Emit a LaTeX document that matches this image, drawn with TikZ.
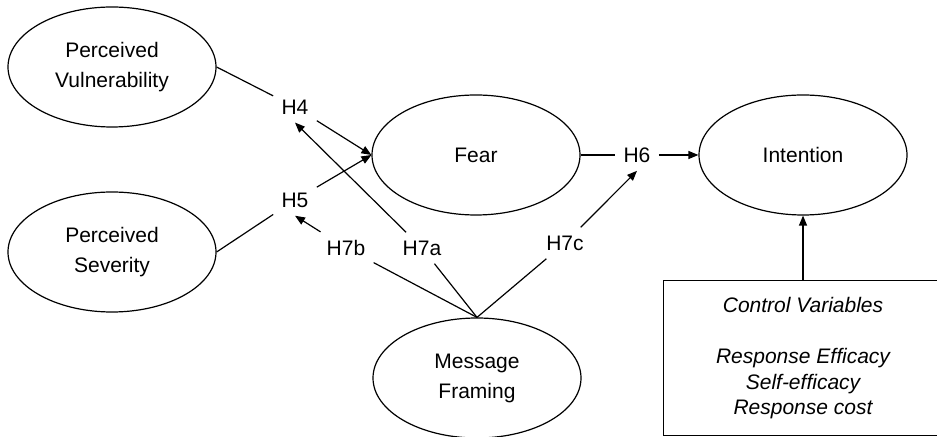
\documentclass[tikz,border=0pt]{standalone}
\usepackage{fontspec}
\setmainfont{Liberation Sans}
\usetikzlibrary{shapes.geometric, arrows.meta, positioning}

\begin{document}
\begin{tikzpicture}[x=0.5pt, y=-0.5pt,
  font=\fontsize{10.5}{15}\selectfont,
  construct/.style={draw, ellipse, line width=0.6pt, minimum width=104pt, minimum height=60pt, align=center, inner sep=0pt},
  hyp/.style={inner sep=4pt},
  link/.style={line width=0.6pt},
  arr/.style={line width=0.6pt, -{Triangle[length=5pt, width=4pt]}}
]
  \useasboundingbox (0,0) rectangle (937,437);
  \clip (0,0) rectangle (937,437);

  % Constructs
  \node[construct] (pv) at (112,67) {Perceived\\Vulnerability};
  \node[construct] (ps) at (112,252) {Perceived\\Severity};
  \node[construct] (fear) at (476,155) {Fear};
  \node[construct] (intent) at (803,155) {Intention};
  \node[construct] (mf) at (477,378) {Message\\Framing};

  % Hypotheses
  \node[hyp] (h4) at (295,107) {H4};
  \node[hyp] (h5) at (295,200) {H5};
  \node[hyp] (h6) at (637,155) {H6};
  \node[hyp] (h7a) at (422,248) {H7a};
  \node[hyp] (h7b) at (346,248) {H7b};
  \node[hyp] (h7c) at (565,243) {H7c};

  % Control variables (box runs off the right edge)
  \node[minimum width=139pt, minimum height=77pt, align=center, font=\fontsize{10.5}{12.8}\selectfont\itshape] (ctrl) at (803,358) {Control Variables\\[12.8pt]Response Efficacy\\Self-efficacy\\Response cost};
  \draw[link] (ctrl.south west) rectangle ([xshift=30pt]ctrl.north east);

  % Main paths
  \draw[link] (pv.east) -- (h4);
  \draw[arr] (h4) -- (fear.west);
  \draw[link] (ps.east) -- (h5);
  \draw[arr] (h5) -- (fear.west);
  \draw[link] (fear.east) -- (h6.west);
  \draw[arr] (h6.east) -- (intent.west);
  \draw[arr] (ctrl.north) -- (intent.south);

  % Moderation by framing
  \draw[link] (mf.north) -- (h7a);
  \draw[arr] (h7a) -- (h4.south);
  \draw[link] (mf.north) -- (h7b);
  \draw[arr] (h7b) -- (h5.south);
  \draw[link] (mf.north) -- (h7c);
  \draw[arr] (h7c) -- (h6.south);
\end{tikzpicture}
\end{document}
